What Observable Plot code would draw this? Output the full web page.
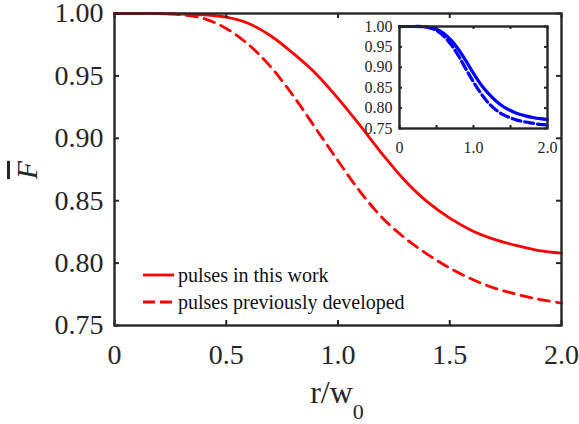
<!DOCTYPE html>
<html>
<head>
<meta charset="utf-8">
<script src="https://cdn.jsdelivr.net/npm/d3@7"></script>
<script src="https://cdn.jsdelivr.net/npm/@observablehq/plot@0.6"></script>
<style>
  html, body { margin: 0; padding: 0; background: white; }
  #wrap { position: relative; width: 579px; height: 424px; overflow: hidden; }
  #inset { position: absolute; left: 359px; top: 21px; }
  svg text { font-family: "Liberation Serif", "Times New Roman", serif; }
</style>
</head>
<body>
<div id="wrap"><div id="main"></div><div id="inset"></div></div>
<script>
// ---- data ----
const rValues = [0, 0.1, 0.2, 0.3, 0.4, 0.5, 0.6, 0.7, 0.8, 0.9, 1.0, 1.1, 1.2, 1.3, 1.4, 1.5, 1.6, 1.7, 1.8, 1.9, 2.0];
const mainThisWork = [1.000, 1.000, 1.000, 0.9995, 0.999, 0.997, 0.992, 0.982, 0.968, 0.952, 0.932, 0.910, 0.887, 0.866, 0.849, 0.836, 0.826, 0.819, 0.814, 0.810, 0.808];
const mainPrevious = [1.000, 1.000, 1.000, 0.999, 0.996, 0.988, 0.975, 0.957, 0.934, 0.908, 0.882, 0.857, 0.836, 0.820, 0.807, 0.796, 0.787, 0.780, 0.775, 0.771, 0.768];
const insetThisWork = [1.000, 1.000, 1.000, 0.9995, 0.998, 0.993, 0.983, 0.966, 0.943, 0.915, 0.885, 0.858, 0.836, 0.818, 0.804, 0.794, 0.786, 0.781, 0.777, 0.774, 0.772];
const insetPrevious = [1.000, 1.000, 1.000, 1.000, 0.997, 0.990, 0.976, 0.955, 0.927, 0.895, 0.864, 0.836, 0.813, 0.796, 0.784, 0.776, 0.770, 0.766, 0.763, 0.760, 0.759];
const seriesNames = ["pulses in this work", "pulses previously developed"];
const yTicks = [0.75, 0.80, 0.85, 0.90, 0.95, 1.00];
const xTicks = [0, 0.5, 1.0, 1.5, 2.0];
const xTickLabels = ["0", "0.5", "1.0", "1.5", "2.0"];
const insetXLabelTicks = [0, 1.0, 2.0];
const insetXTickLabels = ["0", "1.0", "2.0"];
const xLabel = "r/w";
const xLabelSub = "0";
const yLabel = "F";

const toRows = (vals) => rValues.map((r, i) => ({r, f: vals[i]}));
const axisColor = "#262626";
const serif = "Liberation Serif";

// ---- main chart ----
const W = 579, H = 424, mL = 114, mR = 18, mT = 13, mB = 99;
const pw = W - mL - mR, ph = H - mT - mB;
const tk = 5;

const main = Plot.plot({
  width: W, height: H,
  marginLeft: mL, marginRight: mR, marginTop: mT, marginBottom: mB,
  x: {domain: [0, 2]},
  y: {domain: [0.75, 1.0]},
  style: {background: "white", color: axisColor, overflow: "visible"},
  marks: [
    Plot.line(toRows(mainThisWork), {x: "r", y: "f", stroke: "#ff0000", strokeWidth: 2.8, curve: "catmull-rom"}),
    Plot.line(toRows(mainPrevious), {x: "r", y: "f", stroke: "#ff0000", strokeWidth: 2.8, strokeDasharray: "11,7", curve: "catmull-rom"}),
    Plot.tickY(yTicks, {y: d => d, insetRight: pw - tk, stroke: axisColor, strokeWidth: 2}),
    Plot.tickY(yTicks, {y: d => d, insetLeft: pw - tk, stroke: axisColor, strokeWidth: 2}),
    Plot.tickX(xTicks, {x: d => d, insetTop: ph - tk, stroke: axisColor, strokeWidth: 2}),
    Plot.tickX(xTicks, {x: d => d, insetBottom: ph - tk, stroke: axisColor, strokeWidth: 2}),
    Plot.frame({stroke: axisColor, strokeWidth: 2.4}),
    Plot.axisY(yTicks, {tickSize: 0, tickPadding: 11, tickFormat: d3.format(".2f"), fontSize: 28, fontFamily: serif, label: null}),
    Plot.axisX(xTicks, {tickSize: 0, tickPadding: 19, tickFormat: d => xTickLabels[xTicks.indexOf(d)], fontSize: 28, fontFamily: serif, label: null})
  ]
});
main.style.fontFamily = serif;
document.getElementById("main").appendChild(main);

// axis labels and legend
const svg = d3.select(main);
const xl = svg.append("text")
  .attr("x", 337).attr("y", 403)
  .attr("text-anchor", "middle")
  .attr("fill", axisColor)
  .style("font-family", serif).style("font-size", "32px");
xl.append("tspan").text(xLabel);
xl.append("tspan").attr("dy", 16).style("font-size", "22px").text(xLabelSub);

svg.append("text")
  .attr("transform", "translate(37,170) rotate(-90)")
  .attr("text-anchor", "middle")
  .attr("fill", axisColor)
  .style("font-family", serif).style("font-size", "30px").style("font-style", "italic")
  .style("text-decoration", "overline")
  .text(yLabel);

const legend = svg.append("g");
[[0, null, 275], [1, "12,5", 302]].forEach(([i, dash, y]) => {
  const ln = legend.append("line").attr("x1", 143).attr("x2", 174).attr("y1", y).attr("y2", y)
    .attr("stroke", "#ff0000").attr("stroke-width", 2.8);
  if (dash) ln.attr("stroke-dasharray", dash);
  legend.append("text").attr("x", 178).attr("y", y + 7)
    .attr("text-anchor", "start")
    .attr("fill", "#111")
    .style("font-family", serif).style("font-size", "20px")
    .text(seriesNames[i]);
});

// ---- inset ----
const iW = 196, iH = 133, iL = 40, iR = 8, iT = 5, iB = 26;
const ipw = iW - iL - iR, iph = iH - iT - iB;
const itk = 3;
const inset = Plot.plot({
  width: iW, height: iH,
  marginLeft: iL, marginRight: iR, marginTop: iT, marginBottom: iB,
  x: {domain: [0, 2]},
  y: {domain: [0.75, 1.0]},
  style: {background: "transparent", color: axisColor, overflow: "visible"},
  marks: [
    Plot.frame({fill: "white"}),
    Plot.line(toRows(insetThisWork), {x: "r", y: "f", stroke: "#0000ff", strokeWidth: 3.2, curve: "catmull-rom"}),
    Plot.line(toRows(insetPrevious), {x: "r", y: "f", stroke: "#0000ff", strokeWidth: 3.2, strokeDasharray: "9,4", curve: "catmull-rom"}),
    Plot.tickY(yTicks, {y: d => d, insetRight: ipw - itk, stroke: axisColor, strokeWidth: 2}),
    Plot.tickY(yTicks, {y: d => d, insetLeft: ipw - itk, stroke: axisColor, strokeWidth: 2}),
    Plot.tickX(xTicks, {x: d => d, insetTop: iph - itk, stroke: axisColor, strokeWidth: 2}),
    Plot.tickX(xTicks, {x: d => d, insetBottom: iph - itk, stroke: axisColor, strokeWidth: 2}),
    Plot.frame({stroke: axisColor, strokeWidth: 2.4}),
    Plot.axisY(yTicks, {tickSize: 0, tickPadding: 7, tickFormat: d3.format(".2f"), fontSize: 16, fontFamily: serif, label: null}),
    Plot.axisX(insetXLabelTicks, {tickSize: 0, tickPadding: 13, tickFormat: d => insetXTickLabels[insetXLabelTicks.indexOf(d)], fontSize: 16, fontFamily: serif, label: null})
  ]
});
inset.style.fontFamily = serif;
document.getElementById("inset").appendChild(inset);
</script>
</body>
</html>
